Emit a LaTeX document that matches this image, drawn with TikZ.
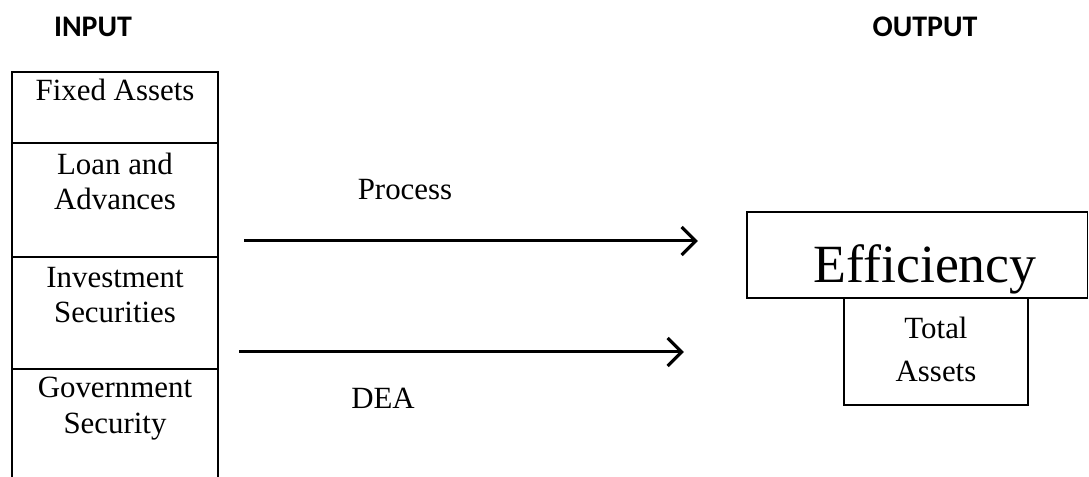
\documentclass[tikz,border=0pt]{standalone}
\usepackage{fontspec}
\setmainfont{Liberation Serif}
\newfontfamily\headfont{Carlito}
\usetikzlibrary{arrows.meta}

\tikzset{
  cell/.style={anchor=base,align=center,inner sep=0pt,font=\fontsize{31}{36}\selectfont},
  head/.style={anchor=base,inner sep=0pt,font=\headfont\bfseries\fontsize{30}{34}\selectfont},
  flow/.style={line width=3bp,-{Straight Barb[length=14bp,width=28bp,line width=3.2bp]}}
}

\begin{document}
\begin{tikzpicture}[x=1bp,y=-1bp]
\useasboundingbox (0,0) rectangle (1089,477);
% headings
\node[head] (in) at (93,37) {INPUT};
\node[head] (out) at (925,37) {OUTPUT};
% input column
\draw[line width=2bp] (12,490) -- (12,72) -- (218,72) -- (218,490);
\foreach \y in {143,257,369}
	\draw[line width=2bp] (12,\y) -- (218,\y);
\node[cell] (fa) at (115,101) {Fixed Assets};
\node[cell] (la) at (115,210) {Loan and\\Advances};
\node[cell] (is) at (115,323) {Investment\\Securities};
\node[cell] (gs) at (115,433) {Government\\Security};
% arrows
\coordinate (p1) at (244,241);
\coordinate (p2) at (698,241);
\coordinate (d1) at (239,352);
\coordinate (d2) at (684,352);
\draw[flow] (p1) -- (p2);
\draw[flow] (d1) -- (d2);
\node[cell] (proc) at (405,200) {Process};
\node[cell] (dea) at (383,408) {DEA};
% output
\draw[line width=1.5bp] (747,212) rectangle (1087.5,298);
\node[anchor=base,inner sep=0pt,font=\fontsize{54}{60}\selectfont] (eff) at (925,283) {Efficiency};
\draw[line width=1.5bp] (844,298) rectangle (1028,405);
\node[cell,font=\fontsize{31}{44}\selectfont] (ta) at (936,382) {Total\\Assets};
\end{tikzpicture}
\end{document}
